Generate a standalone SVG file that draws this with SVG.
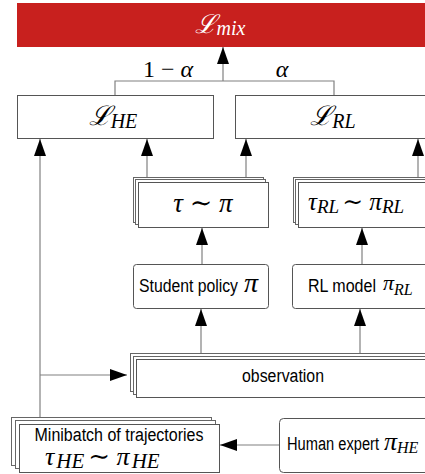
<svg xmlns="http://www.w3.org/2000/svg" width="425" height="474" viewBox="0 0 425 474">
<defs>
<marker id="ah" markerUnits="userSpaceOnUse" markerWidth="17" markerHeight="12" refX="17" refY="6" orient="auto">
<path d="M0,0 L17,6 L0,12 z" fill="#000"/>
</marker>
<style>
.box{fill:#fff;stroke:#555;stroke-width:1}
.lay{fill:#fff;stroke:#666;stroke-width:1}
.ln{fill:none;stroke:#808080;stroke-width:1.2}
.arr{fill:none;stroke:#808080;stroke-width:1.2;marker-end:url(#ah)}
.m{font-family:"Liberation Serif","DejaVu Serif",serif;font-style:italic;fill:#000}
.s{font-family:"Liberation Sans",Arial,sans-serif;fill:#000}
</style>
</defs>
<rect width="425" height="474" fill="#fff"/>
<g id="lmix">
<rect x="17" y="3" width="430" height="44" fill="#c8201e"/>
<text class="m" x="220" y="33" font-size="26" text-anchor="middle" style="fill:#fff">ℒ<tspan font-size="20" dy="2">mix</tspan></text>
</g>
<g id="lhe">
<rect class="box" x="17.5" y="95.5" width="196" height="43"/>
<text class="m" x="113" y="125" font-size="27" text-anchor="middle">ℒ<tspan font-size="20" dy="3">HE</tspan></text>
</g>
<g id="lrl">
<rect class="box" x="235.5" y="95.5" width="210" height="43"/>
<text class="m" x="333" y="125" font-size="27" text-anchor="middle">ℒ<tspan font-size="20" dy="3">RL</tspan></text>
</g>
<g id="tau">
<rect class="lay" x="133.5" y="177.5" width="130" height="45"/>
<rect class="lay" x="135.5" y="179.5" width="130" height="45"/>
<rect class="box" x="138.5" y="182.5" width="130" height="45"/>
<text class="m" x="203" y="212" font-size="27" text-anchor="middle">τ  ∼  π</text>
</g>
<g id="taurl">
<rect class="lay" x="293.5" y="177.5" width="150" height="45"/>
<rect class="lay" x="295.5" y="179.5" width="150" height="45"/>
<rect class="box" x="298.5" y="182.5" width="150" height="45"/>
<text class="m" x="308" y="210" font-size="25">τ<tspan font-size="19" dy="3">RL</tspan><tspan dy="-3" dx="3">∼ π</tspan><tspan font-size="19" dy="3">RL</tspan></text>
</g>
<g id="student">
<rect class="box" x="133.5" y="264.5" width="135" height="44" rx="3"/>
<text class="s" x="139" y="292" font-size="18" textLength="99" lengthAdjust="spacingAndGlyphs">Student policy</text>
<text class="m" x="244" y="292" font-size="28">π</text>
</g>
<g id="rlmodel">
<rect class="box" x="292.5" y="264.5" width="150" height="44" rx="3"/>
<text class="s" x="308" y="292" font-size="18" textLength="68" lengthAdjust="spacingAndGlyphs">RL model</text>
<text class="m" x="383" y="290" font-size="22">π<tspan font-size="16" dy="5">RL</tspan></text>
</g>
<g id="observation">
<rect class="lay" x="130.5" y="353.5" width="310" height="38"/>
<rect class="lay" x="133.5" y="356.5" width="310" height="38"/>
<rect class="box" x="136.5" y="359.5" width="310" height="38"/>
<text class="s" x="283" y="382" font-size="18" text-anchor="middle" textLength="82" lengthAdjust="spacingAndGlyphs">observation</text>
</g>
<g id="minibatch">
<rect class="lay" x="11.5" y="417.5" width="200" height="48"/>
<rect class="lay" x="15.5" y="420.5" width="200" height="48"/>
<rect class="box" x="19.5" y="424.5" width="200" height="48"/>
<text class="s" x="119" y="441" font-size="18" text-anchor="middle" textLength="169" lengthAdjust="spacingAndGlyphs">Minibatch of trajectories</text>
<text class="m" x="45" y="465" font-size="26">τ<tspan font-size="21" dy="3" dx="2">HE</tspan><tspan dy="-3" dx="4">∼ π</tspan><tspan font-size="21" dy="3" dx="2">HE</tspan></text>
</g>
<g id="human">
<rect class="box" x="279.5" y="418.5" width="160" height="54" rx="4"/>
<text class="s" x="287" y="450" font-size="18" textLength="92" lengthAdjust="spacingAndGlyphs">Human expert</text>
<text class="m" x="384" y="450" font-size="26">π<tspan font-size="16" dy="3">HE</tspan></text>
</g>
<g id="connectors">
<path class="arr" d="M223,81 V47"/>
<path class="ln" d="M115,95 V81 H334 V95"/>
<text class="m" x="168" y="77" font-size="24" text-anchor="middle"><tspan font-style="normal">1 − </tspan>α</text>
<text class="m" x="282" y="77" font-size="24" text-anchor="middle">α</text>
<path class="arr" d="M40,417 V139"/>
<path class="arr" d="M40,375 H127"/>
<path class="arr" d="M147,177 V139"/>
<path class="arr" d="M246,177 V139"/>
<path class="arr" d="M418,177 V139"/>
<path class="arr" d="M202,264 V228"/>
<path class="arr" d="M362,264 V228"/>
<path class="arr" d="M201,353 V309"/>
<path class="arr" d="M360,353 V309"/>
<path class="arr" d="M279,445 H220"/>
</g>
</svg>
